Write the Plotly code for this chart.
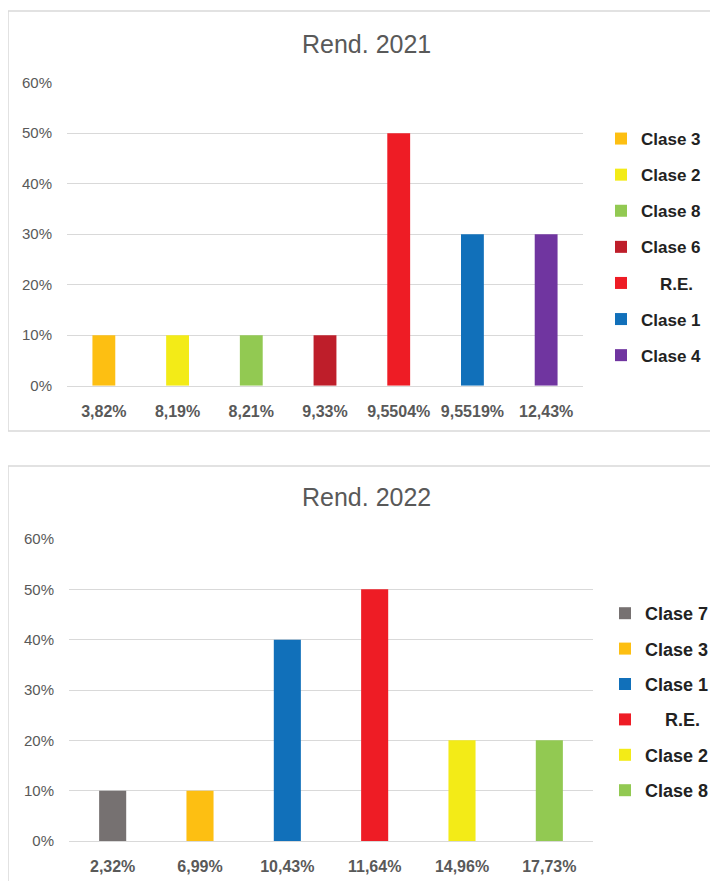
import plotly.graph_objects as go

# ---- data: chart 1 (Rend. 2021)
cats_2021 = ["3,82%", "8,19%", "8,21%", "9,33%", "9,5504%", "9,5519%", "12,43%"]
vals_2021 = [0.10, 0.10, 0.10, 0.10, 0.50, 0.30, 0.30]
names_2021 = ["Clase 3", "Clase 2", "Clase 8", "Clase 6", "R.E.", "Clase 1", "Clase 4"]

# ---- data: chart 2 (Rend. 2022)
cats_2022 = ["2,32%", "6,99%", "10,43%", "11,64%", "14,96%", "17,73%"]
vals_2022 = [0.10, 0.10, 0.40, 0.50, 0.20, 0.20]
names_2022 = ["Clase 7", "Clase 3", "Clase 1", "R.E.", "Clase 2", "Clase 8"]

y_ticks = [0, 0.1, 0.2, 0.3, 0.4, 0.5, 0.6]
y_tick_labels = ["0%", "10%", "20%", "30%", "40%", "50%", "60%"]

colors = {
    "Clase 1": "#1170BA",
    "Clase 2": "#F3EB17",
    "Clase 3": "#FDBF12",
    "Clase 4": "#7035A0",
    "Clase 6": "#BE1E2A",
    "Clase 7": "#767171",
    "Clase 8": "#92C952",
    "R.E.": "#EE1C25",
}

# The page body has the browser's default 8px margin, so the figure is
# placed at (8, 8) inside the 718x881 window.
OFF = 8
W, H = 718 - OFF, 881 - OFF
FONT = "Liberation Sans, Arial, sans-serif"
GRAY = "#595959"
GRID = "#D9D9D9"


def px(x):
    return (x - OFF) / W


def py(y):
    return 1 - (y - OFF) / H


def legend_label(n):
    return "\u00a0\u00a0\u00a0\u00a0" + n if n == "R.E." else n


fig = go.Figure()

for c, v, n in zip(cats_2021, vals_2021, names_2021):
    fig.add_trace(go.Bar(
        x=[c], y=[v], name=legend_label(n), marker=dict(color=colors[n], line=dict(width=0)),
        xaxis="x", yaxis="y", legend="legend", legendgroup="a" + n, hoverinfo="skip"))

for c, v, n in zip(cats_2022, vals_2022, names_2022):
    fig.add_trace(go.Bar(
        x=[c], y=[v], name=legend_label(n), marker=dict(color=colors[n], line=dict(width=0)),
        xaxis="x2", yaxis="y2", legend="legend2", legendgroup="b" + n, hoverinfo="skip"))

yaxis_common = dict(
    range=[0, 0.6], tickvals=y_ticks, ticktext=y_tick_labels,
    showgrid=True, gridcolor=GRID, gridwidth=1, zeroline=False, showline=False,
    ticks="", ticklabelstandoff=14,
    tickfont=dict(family=FONT, size=15, color=GRAY), fixedrange=True,
)
xaxis_common = dict(
    type="category", showgrid=False, zeroline=False,
    showline=True, linecolor=GRID, linewidth=1, ticks="", ticklabelstandoff=11,
    tickfont=dict(family=FONT, size=16, color=GRAY, weight="bold"), fixedrange=True,
)

fig.update_layout(
    width=W, height=H,
    margin=dict(l=0, r=0, t=0, b=0, autoexpand=False),
    paper_bgcolor="white", plot_bgcolor="white",
    barmode="overlay", bargap=0.69,
    showlegend=True,
    xaxis=dict(xaxis_common, domain=[px(67), px(583)], anchor="y",
               categoryorder="array", categoryarray=cats_2021),
    yaxis=dict(yaxis_common, domain=[py(385.7), py(82.7)], anchor="x"),
    xaxis2=dict(xaxis_common, domain=[px(69), px(593)], anchor="y2",
                categoryorder="array", categoryarray=cats_2022),
    yaxis2=dict(yaxis_common, domain=[py(841), py(539)], anchor="x2"),
    legend=dict(x=px(601), y=py(121), xanchor="left", yanchor="top",
                font=dict(family=FONT, size=17, color="#222222", weight="bold"),
                traceorder="grouped", tracegroupgap=11, bgcolor="rgba(0,0,0,0)"),
    legend2=dict(x=px(605), y=py(595), xanchor="left", yanchor="top",
                 font=dict(family=FONT, size=18, color="#222222", weight="bold"),
                 traceorder="grouped", tracegroupgap=9, bgcolor="rgba(0,0,0,0)"),
    annotations=[
        dict(text="Rend. 2021", x=px(366), y=py(44), xref="paper", yref="paper",
             xanchor="center", yanchor="middle", showarrow=False,
             font=dict(family=FONT, size=25, color=GRAY)),
        dict(text="Rend. 2022", x=px(366), y=py(497), xref="paper", yref="paper",
             xanchor="center", yanchor="middle", showarrow=False,
             font=dict(family=FONT, size=25, color=GRAY)),
    ],
    shapes=[
        dict(type="rect", xref="paper", yref="paper", x0=px(8), x1=px(730),
             y0=py(431), y1=py(11), line=dict(color=GRID, width=1.5), fillcolor="rgba(0,0,0,0)",
             layer="below"),
        dict(type="rect", xref="paper", yref="paper", x0=px(8), x1=px(730),
             y0=py(900), y1=py(466), line=dict(color=GRID, width=1.5), fillcolor="rgba(0,0,0,0)",
             layer="below"),
    ],
)

fig.write_html("out.html")
